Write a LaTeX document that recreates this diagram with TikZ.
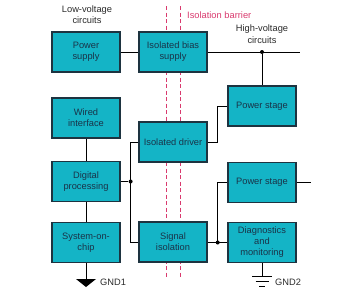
\documentclass[tikz,border=0pt]{standalone}
\usepackage{fontspec}
\setmainfont{Liberation Sans}
\usetikzlibrary{positioning}
\definecolor{boxfill}{HTML}{14B4C6}
\definecolor{boxline}{HTML}{1D3340}
\definecolor{boxtext}{HTML}{1A3348}
\definecolor{barrier}{HTML}{D93A6E}
\definecolor{labeltext}{HTML}{2A2A2A}
\begin{document}
\begin{tikzpicture}[
  x=1pt, y=-1pt,
  block/.style={draw=boxline, line width=1.2pt, fill=boxfill, text=boxtext,
    minimum width=68pt, minimum height=40pt, align=center, inner sep=1pt,
    font=\fontsize{9.3}{11}\selectfont},
  wire/.style={draw=black, line width=0.8pt},
  barrierline/.style={draw=barrier, line width=0.8pt, dash pattern=on 4pt off 2.5pt},
  note/.style={font=\fontsize{9.3}{11.5}\selectfont, text=labeltext, align=center, inner sep=1pt},
  junction/.style={circle, fill=black, inner sep=0pt, minimum size=4pt}
]
\useasboundingbox (0,0) rectangle (356,298);

\draw[barrierline] (166.7,6) -- (166.7,277);
\draw[barrierline] (180.3,6) -- (180.3,277);
\node[note, anchor=west, text=barrier] (barrierlabel) at (186,15) {Isolation barrier};

\node[note] (lvlabel) at (87,14.5) {Low-voltage\\circuits};
\node[note] (hvlabel) at (262,34) {High-voltage\\circuits};

\node[block] (psup) at (86,52) {Power\\supply};
\node[block] (bias) at (173,52) {Isolated bias\\supply};
\node[block] (wired) at (86,118) {Wired\\interface};
\node[block] (driver) at (173,142) {Isolated driver};
\node[block] (digital) at (86,181.5) {Digital\\processing};
\node[block] (soc) at (86,242.5) {System-on-\\chip};
\node[block] (sigiso) at (173,242) {Signal\\isolation};
\node[block] (pstage1) at (262,106) {Power stage};
\node[block] (pstage2) at (262,182.5) {Power stage};
\node[block] (diag) at (262,242.5) {Diagnostics\\and\\monitoring};

% power path
\draw[wire] (psup) -- (bias);
\coordinate (hvend) at (300,52);
\draw[wire] (bias.east) -- (hvend);
\node[junction] (jbias) at (pstage1.north |- bias.east) {};
\draw[wire] (jbias) -- (pstage1.north);
\draw[wire] (driver.east) -| ([xshift=-10.5]pstage1.west) -- (pstage1.west);

% low-voltage side
\draw[wire] (wired) -- (digital);
\draw[wire] (digital) -- (soc);
\node[junction] (jlv) at ([xshift=10]digital.east) {};
\draw[wire] (digital.east) -- (jlv);
\draw[wire] (driver.west) -| (jlv.center) |- (sigiso.west);

% high-voltage side
\node[junction] (jhv) at (217.7,242.5) {};
\draw[wire] (sigiso.east |- jhv) -- (diag.west |- jhv);
\draw[wire] (jhv.center) |- (pstage2.west);
\coordinate (ps2end) at (311,182.5);
\draw[wire] (pstage2.east) -- (ps2end);

% grounds
\coordinate (gnd1) at (86,279);
\draw[wire] (soc.south) -- (gnd1);
\fill (76,279) -- (96,279) -- (86,287) -- cycle;
\node[note, anchor=west] (gnd1label) at (99,282) {GND1};

\coordinate (gnd2) at (262,276);
\draw[wire] (diag.south) -- (gnd2);
\draw[wire] (252,276) -- (272,276);
\draw[wire] (255.5,281) -- (268.5,281);
\draw[wire] (259,286) -- (265,286);
\node[note, anchor=west] (gnd2label) at (274,282) {GND2};
\end{tikzpicture}
\end{document}
